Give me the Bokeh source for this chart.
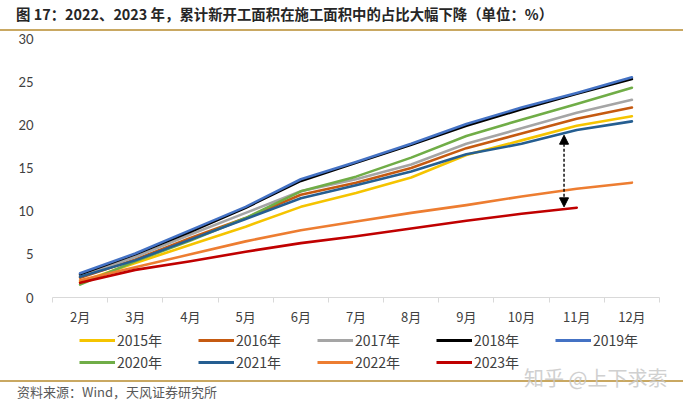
from bokeh.plotting import figure
from bokeh.models import (Range1d, FixedTicker, Legend, LegendItem, Div,
                          Arrow, NormalHead)
from bokeh.layouts import column
from bokeh.embed import file_html
from bokeh.resources import INLINE

months = ["2月", "3月", "4月", "5月", "6月", "7月", "8月", "9月", "10月", "11月", "12月"]
y_ticks = [0, 5, 10, 15, 20, 25, 30]

years = ["2015年", "2016年", "2017年", "2018年", "2019年",
         "2020年", "2021年", "2022年", "2023年"]
v2015 = [1.8, 4.0, 6.1, 8.2, 10.5, 12.1, 13.9, 16.5, 18.2, 19.9, 21.0]
v2016 = [2.3, 4.4, 6.9, 9.2, 11.9, 13.3, 15.0, 17.3, 19.0, 20.7, 22.0]
v2017 = [2.5, 4.7, 7.3, 9.8, 12.3, 13.7, 15.4, 17.8, 19.6, 21.4, 22.9]
v2018 = [2.7, 5.0, 7.6, 10.4, 13.5, 15.6, 17.7, 19.9, 21.8, 23.6, 25.3]
v2019 = [2.8, 5.1, 7.8, 10.5, 13.7, 15.7, 17.8, 20.1, 22.0, 23.7, 25.5]
v2020 = [1.5, 4.2, 6.6, 9.2, 12.3, 14.0, 16.2, 18.7, 20.6, 22.4, 24.3]
v2021 = [2.4, 4.3, 6.7, 9.1, 11.5, 13.0, 14.6, 16.6, 17.8, 19.4, 20.4]
v2022 = [2.0, 3.5, 5.0, 6.5, 7.8, 8.8, 9.8, 10.7, 11.7, 12.6, 13.3]
v2023 = [1.7, 3.2, 4.2, 5.3, 6.3, 7.1, 8.0, 8.9, 9.7, 10.4]

colors = ["#F5C400", "#C55A11", "#A5A5A5", "#000000", "#4472C4",
          "#70AD47", "#255E91", "#ED7D31", "#C00000"]
series = [v2015, v2016, v2017, v2018, v2019, v2020, v2021, v2022, v2023]

# gap arrow (position between 10月 and 11月)
arrow_pos = 8.77
arrow_top = 18.8
arrow_bottom = 10.5

title_text = "图 17：2022、2023 年，累计新开工面积在施工面积中的占比大幅下降（单位：%）"
source_text = "资料来源：Wind，天风证券研究所"
watermark = "知乎 @上下求索"

CJK = "Noto Sans CJK SC"
W = 683
RULE = "#C9A862"

title_div = Div(width=W, height=32, margin=0, styles={"overflow": "visible"}, text=(
    f'<div style="position:relative;width:{W}px;height:32px;">'
    f'<div style="position:absolute;left:16px;top:4px;white-space:nowrap;'
    f'font-family:\'{CJK}\';font-size:14.4px;font-weight:bold;color:#262626;line-height:20px;">'
    f'{title_text}</div>'
    f'<div style="position:absolute;left:0;top:29px;width:{W}px;height:2px;background:{RULE};"></div>'
    f'</div>'))

p = figure(width=W, height=296, output_backend="svg", toolbar_location=None,
           x_range=Range1d(-0.5, len(months) - 0.5), y_range=Range1d(0, 30),
           min_border_left=52, min_border_right=24, min_border_top=6,
           min_border_bottom=30, margin=0)
p.outline_line_color = None
p.xgrid.visible = False
p.ygrid.visible = False

xs = list(range(len(months)))
for vals, col in zip(series, colors):
    p.line(xs[:len(vals)], vals, line_color=col, line_width=2.6,
           line_join="round", line_cap="round")

# axes
p.xaxis.ticker = FixedTicker(ticks=xs, minor_ticks=[i - 0.5 for i in range(len(months) + 1)])
p.xaxis.major_label_overrides = {i: m for i, m in enumerate(months)}
p.xaxis.axis_line_color = "#D9D9D9"
p.xaxis.major_tick_line_color = None
p.xaxis.minor_tick_line_color = "#D9D9D9"
p.xaxis.minor_tick_in = 0
p.xaxis.minor_tick_out = 5
p.xaxis.major_label_text_font = CJK
p.xaxis.major_label_text_font_size = "13px"
p.xaxis.major_label_text_color = "#404040"
p.xaxis.major_label_standoff = 3

p.yaxis.ticker = FixedTicker(ticks=y_ticks)
p.yaxis.axis_line_color = None
p.yaxis.major_tick_line_color = None
p.yaxis.minor_tick_line_color = None
p.yaxis.major_label_text_font = "Lato"
p.yaxis.major_label_text_font_size = "13px"
p.yaxis.major_label_text_color = "#404040"
p.yaxis.major_label_standoff = 13

# arrow
p.add_layout(Arrow(x_start=arrow_pos, y_start=arrow_bottom, x_end=arrow_pos, y_end=arrow_top,
                   line_color="black", line_width=1.4, line_dash="3 2",
                   start=NormalHead(size=9, fill_color="black", line_color="black"),
                   end=NormalHead(size=9, fill_color="black", line_color="black")))

# legend strip (separate figure so the legend is not clipped by the main frame)
lg = figure(width=W, height=50, output_backend="svg", toolbar_location=None,
            x_axis_type=None, y_axis_type=None, min_border=0, margin=0,
            x_range=Range1d(-0.5, len(months) - 0.5), y_range=Range1d(100, 130))
lg.outline_line_color = None
lg.xgrid.visible = False
lg.ygrid.visible = False
items = []
for name, vals, col in zip(years, series, colors):
    r = lg.line(xs[:len(vals)], vals, line_color=col, line_width=2.8)
    items.append(LegendItem(label=name, renderers=[r]))
legend = Legend(items=items, orientation="horizontal", ncols=5,
                location=(27, 6), padding=0, margin=0, spacing=2,
                glyph_width=36, glyph_height=20, label_height=20,
                label_width=79, label_standoff=2,
                label_text_font=CJK, label_text_font_size="14px",
                label_text_color="#404040",
                border_line_color=None, background_fill_alpha=0)
lg.add_layout(legend, "center")

footer_div = Div(width=W, height=22, margin=0, styles={"overflow": "visible"}, text=(
    f'<div style="position:relative;width:{W}px;height:22px;">'
    f'<div style="position:absolute;left:0;top:2px;width:{W}px;height:2px;background:{RULE};"></div>'
    f'<div style="position:absolute;left:17px;top:6px;white-space:nowrap;'
    f'font-family:\'{CJK}\';font-size:13px;color:#595959;line-height:15px;">{source_text}</div>'
    f'<div style="position:absolute;left:524px;top:-12px;white-space:nowrap;'
    f'font-family:\'{CJK}\';font-size:20px;color:#C8C8C8;opacity:0.85;line-height:24px;">{watermark}</div>'
    f'</div>'))

layout = column(title_div, p, lg, footer_div, spacing=0, margin=0)
open("out.html", "w").write(file_html(layout, INLINE))
